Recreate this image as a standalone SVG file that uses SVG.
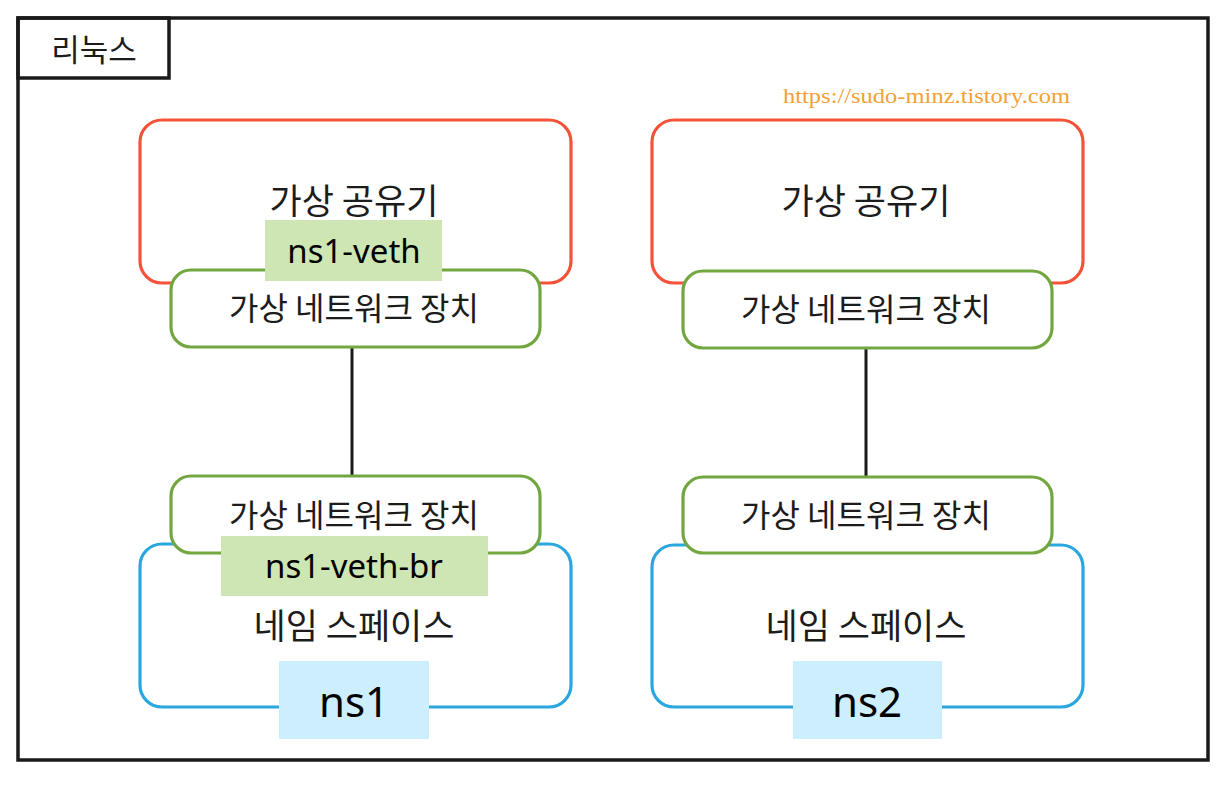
<svg xmlns="http://www.w3.org/2000/svg" width="1230" height="786" viewBox="0 0 1230 786">
<style>
.frame{fill:none;stroke:#1a1a1a;stroke-width:3.5}
.router{fill:#fff;stroke:#f4533a;stroke-width:3.2}
.dev{fill:#fff;stroke:#72a73f;stroke-width:3.2}
.ns{fill:#fff;stroke:#2ba7df;stroke-width:3.2}
.kr{font-family:"Noto Sans CJK KR","Noto Sans",sans-serif;fill:#1c1c1c;text-anchor:middle}
.lbl{font-family:"Noto Sans","Liberation Sans",sans-serif;fill:#000;text-anchor:middle}
.gfill{fill:#cde6b4}
.bfill{fill:#cdeefc}
.wire{stroke:#1a1a1a;stroke-width:3;fill:none}
</style>
<rect width="1230" height="786" fill="#fff"/>
<g id="linux">
<rect class="frame" x="18" y="18" width="1190" height="742"/>
<rect class="frame" x="18" y="18" width="151" height="60"/>
<text class="kr" x="94" y="61" font-size="31">리눅스</text>
</g>
<text id="url" x="783" y="103" font-family="Liberation Serif,serif" font-size="22" fill="#f3a136" textLength="287" lengthAdjust="spacingAndGlyphs">https://sudo-minz.tistory.com</text>
<g id="connectors">
<line class="wire" x1="352" y1="348" x2="352" y2="476"/>
<line class="wire" x1="866" y1="349" x2="866" y2="476"/>
</g>
<g id="router1">
<rect class="router" x="140" y="120" width="431" height="163" rx="22"/>
<text class="kr" x="354" y="214" font-size="35">가상 공유기</text>
</g>
<g id="router2">
<rect class="router" x="652" y="120" width="431" height="163" rx="22"/>
<text class="kr" x="866" y="214" font-size="35">가상 공유기</text>
</g>
<g id="ns1">
<rect class="ns" x="140" y="544" width="431" height="163" rx="22"/>
<text class="kr" x="354" y="639" font-size="35">네임 스페이스</text>
<rect class="bfill" x="279" y="661" width="150" height="78"/>
<text class="lbl" x="354" y="717" font-size="42">ns1</text>
</g>
<g id="ns2">
<rect class="ns" x="652" y="545" width="431" height="162" rx="22"/>
<text class="kr" x="866" y="639" font-size="35">네임 스페이스</text>
<rect class="bfill" x="793" y="661" width="149" height="78"/>
<text class="lbl" x="867" y="717" font-size="42">ns2</text>
</g>
<g id="veth1">
<rect class="dev" x="171" y="270" width="369" height="77" rx="20"/>
<text class="kr" x="354" y="320" font-size="32">가상 네트워크 장치</text>
<rect class="gfill" x="265" y="220" width="177" height="61"/>
<text class="lbl" x="354" y="263" font-size="33">ns1-veth</text>
</g>
<g id="veth2">
<rect class="dev" x="683" y="271" width="369" height="77" rx="20"/>
<text class="kr" x="866" y="321" font-size="32">가상 네트워크 장치</text>
</g>
<g id="veth1-br">
<rect class="dev" x="171" y="476" width="369" height="77" rx="20"/>
<text class="kr" x="354" y="527" font-size="32">가상 네트워크 장치</text>
<rect class="gfill" x="221" y="536" width="267" height="60"/>
<text class="lbl" x="354" y="578" font-size="33">ns1-veth-br</text>
</g>
<g id="veth2-br">
<rect class="dev" x="683" y="477" width="369" height="76" rx="20"/>
<text class="kr" x="866" y="527" font-size="32">가상 네트워크 장치</text>
</g>
</svg>
